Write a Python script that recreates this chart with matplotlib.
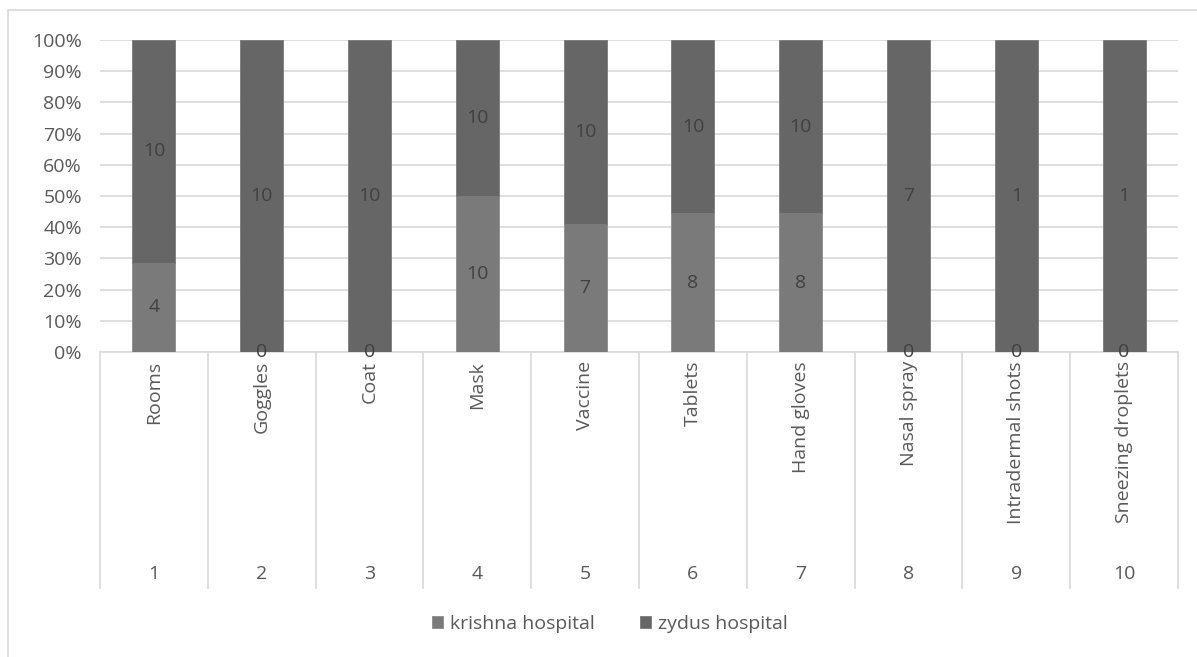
import numpy as np
import matplotlib
matplotlib.use("Agg")
import matplotlib.pyplot as plt
from matplotlib.patches import Rectangle

plt.rcParams['font.family'] = ['Open Sans', 'DejaVu Sans']

# data
items = ["Rooms", "Goggles", "Coat", "Mask", "Vaccine", "Tablets",
         "Hand gloves", "Nasal spray", "Intradermal shots", "Sneezing droplets"]
numbers = ["1", "2", "3", "4", "5", "6", "7", "8", "9", "10"]
krishna = np.array([4, 0, 0, 10, 7, 8, 8, 0, 0, 0])
zydus = np.array([10, 10, 10, 10, 10, 10, 10, 7, 1, 1])

c_krishna = "#7a7a7a"
c_zydus = "#666666"
txt = "#595959"
grid_c = "#d9d9d9"
fs = 14

total = krishna + zydus
k_pct = krishna / total * 100
z_pct = zydus / total * 100

fig = plt.figure(figsize=(11.97, 6.57), dpi=100)
W, H = 1197, 657
ax = fig.add_axes([100 / W, 1 - 352 / H, 1078 / W, 312 / H])

x = np.arange(len(items))
bw = 0.40
ax.bar(x, k_pct, bw, color=c_krishna, edgecolor="#8c8c8c", linewidth=0.6,
       label="krishna hospital", zorder=3)
ax.bar(x, z_pct, bw, bottom=k_pct, color=c_zydus, edgecolor="#7a7a7a",
       linewidth=0.6, label="zydus hospital", zorder=3)

# data labels
for i in range(len(items)):
    ax.text(x[i], k_pct[i] / 2, str(krishna[i]), ha="center", va="center",
            fontsize=fs, color="#404040", zorder=4)
    ax.text(x[i], k_pct[i] + z_pct[i] / 2, str(zydus[i]), ha="center",
            va="center", fontsize=fs, color="#404040", zorder=4)

ax.set_xlim(-0.5, len(items) - 0.5)
ax.set_ylim(0, 100)
ax.set_yticks(np.arange(0, 101, 10))
ax.set_yticklabels([f"{v}%" for v in range(0, 101, 10)], fontsize=fs, color=txt)
ax.tick_params(axis="y", length=0, pad=13)
ax.set_xticks([])
ax.yaxis.grid(True, color=grid_c, linewidth=1.2, zorder=0)
for s in ["left", "right", "top"]:
    ax.spines[s].set_visible(False)
ax.spines["bottom"].set_color(grid_c)
ax.spines["bottom"].set_linewidth(1.2)

# multi-level category axis
trans = ax.get_xaxis_transform()
sep_bottom = (352 - 588) / 312
for b in np.arange(-0.5, len(items), 1.0):
    ax.plot([b, b], [0, sep_bottom], transform=trans, color=grid_c,
            linewidth=1.2, clip_on=False)
for i in range(len(items)):
    ax.text(x[i], (352 - 361) / 312, items[i], transform=trans, rotation=90,
            ha="center", va="top", fontsize=fs, color=txt)
    ax.text(x[i], (352 - 574) / 312, numbers[i], transform=trans,
            ha="center", va="center", fontsize=fs, color=txt)

# legend
ax.legend(loc="center", bbox_to_anchor=(610 / W, 1 - 624 / H),
          bbox_transform=fig.transFigure, ncol=2, frameon=False, fontsize=fs,
          labelcolor=txt, handlelength=0.55, handleheight=0.55,
          handletextpad=0.4, columnspacing=2.3)

# outer chart border
fig.patches.append(Rectangle((8 / W, -0.01), 1.05, 1 - 10 / H + 0.01,
                             transform=fig.transFigure, fill=False,
                             edgecolor=grid_c, linewidth=1.2))

fig.savefig("out.png", dpi=100)
